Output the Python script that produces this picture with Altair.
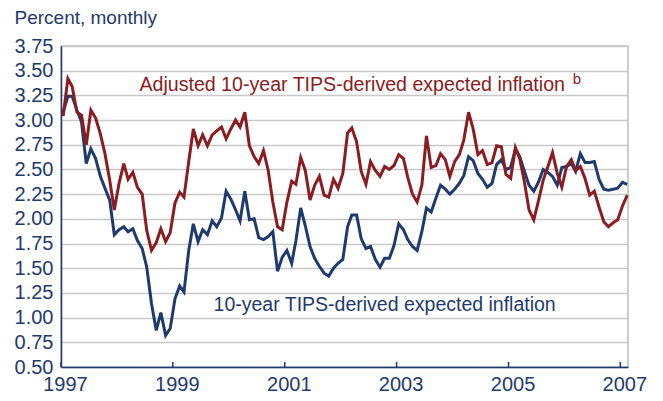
import altair as alt
import pandas as pd

# Monthly observations, Jan 1997 - Feb 2007 (percent)
start_month = "1997-01-01"
n_months = 122

adjusted = [3.04, 3.42, 3.34, 3.08, 3.05, 2.75, 3.10, 3.02, 2.86, 2.66,
            2.39, 2.09, 2.36, 2.56, 2.40, 2.47, 2.32, 2.25, 1.88, 1.68,
            1.76, 1.90, 1.77, 1.86, 2.16, 2.27, 2.22, 2.58, 2.91, 2.74,
            2.85, 2.74, 2.85, 2.89, 2.93, 2.81, 2.91, 3.00, 2.93, 3.08,
            2.74, 2.63, 2.56, 2.69, 2.49, 2.17, 1.92, 1.89, 2.17, 2.38,
            2.35, 2.62, 2.49, 2.19, 2.34, 2.43, 2.24, 2.22, 2.40, 2.31,
            2.46, 2.87, 2.92, 2.78, 2.48, 2.35, 2.58, 2.49, 2.43, 2.53,
            2.50, 2.54, 2.65, 2.61, 2.42, 2.25, 2.17, 2.34, 2.84, 2.52,
            2.54, 2.66, 2.60, 2.43, 2.58, 2.65, 2.80, 3.08, 2.91, 2.65,
            2.69, 2.55, 2.57, 2.74, 2.73, 2.45, 2.41, 2.72, 2.61, 2.37,
            2.09, 1.99, 2.18, 2.39, 2.53, 2.67, 2.46, 2.32, 2.53, 2.60,
            2.49, 2.53, 2.41, 2.24, 2.28, 2.12, 1.97, 1.92, 1.96, 1.99,
            2.13, 2.24]

tips = [3.08, 3.24, 3.24, 3.10, 2.98, 2.56, 2.71, 2.61, 2.43, 2.31,
        2.19, 1.84, 1.89, 1.92, 1.87, 1.90, 1.78, 1.70, 1.51, 1.14,
        0.87, 1.05, 0.82, 0.89, 1.19, 1.32, 1.26, 1.68, 1.95, 1.77,
        1.89, 1.84, 1.98, 1.92, 2.01, 2.28, 2.20, 2.09, 1.98, 2.28,
        1.99, 2.00, 1.81, 1.79, 1.82, 1.87, 1.47, 1.61, 1.68, 1.55,
        1.78, 2.11, 1.93, 1.72, 1.60, 1.52, 1.45, 1.42, 1.50, 1.55,
        1.59, 1.92, 2.04, 2.04, 1.80, 1.70, 1.72, 1.59, 1.51, 1.60,
        1.60, 1.73, 1.95, 1.89, 1.79, 1.72, 1.68, 1.87, 2.11, 2.07,
        2.21, 2.34, 2.30, 2.25, 2.30, 2.36, 2.44, 2.63, 2.59, 2.46,
        2.40, 2.32, 2.36, 2.55, 2.60, 2.50, 2.52, 2.71, 2.63, 2.48,
        2.34, 2.28, 2.37, 2.50, 2.47, 2.43, 2.34, 2.52, 2.53, 2.56,
        2.48, 2.66, 2.57, 2.57, 2.58, 2.40, 2.30, 2.29, 2.30, 2.31,
        2.37, 2.35]

tick_years = [1997, 1999, 2001, 2003, 2005, 2007]
y_ticks = [0.5, 0.75, 1.0, 1.25, 1.5, 1.75, 2.0, 2.25, 2.5, 2.75, 3.0, 3.25, 3.5, 3.75]

label_text = ["Adjusted 10-year TIPS-derived expected inflation", "b",
              "10-year TIPS-derived expected inflation"]
label_date = ["1998-05-28", "2006-02-25", "1999-09-24"]
label_value = [3.29, 3.365, 1.065]
label_series = ["adj", "adj", "tips"]
label_size = [19.6, 15, 19.5]

RED = "#8b1c22"
NAVY = "#1f3a6c"
FONT = "Liberation Sans"
W, H = 567, 321

dates = (pd.date_range(start_month, periods=n_months, freq="MS") + pd.Timedelta(days=14)).strftime("%Y-%m-%d")
df = pd.DataFrame({
    "date": list(dates) * 2,
    "value": tips + adjusted,
    "series": ["tips"] * n_months + ["adj"] * n_months,
})
labels = pd.DataFrame({"date": label_date, "value": label_value, "text": label_text,
                       "series": label_series, "size": label_size})
ticks = pd.DataFrame({"date": [f"{y}-01-01" for y in tick_years]})

xscale = alt.Scale(type="utc", domain=[alt.DateTime(year=1997, month=1, date=1, utc=True),
                                       alt.DateTime(year=2007, month=2, date=20, utc=True)])
yscale = alt.Scale(domain=[0.5, 3.75], nice=False, zero=False)
cscale = alt.Scale(domain=["adj", "tips"], range=[RED, NAVY])

x_axis = alt.Axis(values=[alt.DateTime(year=y, month=1, date=1, utc=True) for y in tick_years],
                  format="%Y", ticks=False, grid=False, labelPadding=7, labelOffset=4,
                  labelFontSize=20, labelColor=NAVY, labelFont=FONT, labelOverlap=False,
                  domainColor=NAVY, domainWidth=1.5, labelFlush=False)
y_axis = alt.Axis(values=y_ticks, format=".2f", ticks=False, grid=True,
                  gridColor="#c9c9c9", gridWidth=1.6, labelPadding=8,
                  labelFontSize=20, labelColor=NAVY, labelFont=FONT, labelOverlap=False,
                  domainColor=NAVY, domainWidth=1.5,
                  titleAngle=0, titleAlign="left", titleBaseline="alphabetic",
                  titleX=-47, titleY=-23, titleFontSize=19, titleFontWeight="normal",
                  titleColor=NAVY, titleFont=FONT)

x_enc = alt.X("date:T", scale=xscale, title=None, axis=x_axis)
y_enc = alt.Y("value:Q", scale=yscale, title="Percent, monthly", axis=y_axis)
c_enc = alt.Color("series:N", scale=cscale, legend=None)

base = alt.Chart(df)
blue_line = base.transform_filter(alt.datum.series == "tips").mark_line(strokeWidth=3).encode(
    x=x_enc, y=y_enc, color=c_enc)
red_line = base.transform_filter(alt.datum.series == "adj").mark_line(strokeWidth=3).encode(
    x=x_enc, y=y_enc, color=c_enc)

text = alt.Chart(labels).mark_text(align="left", baseline="alphabetic", font=FONT).encode(
    x=x_enc, y=y_enc, text="text:N",
    size=alt.Size("size:Q", scale=None, legend=None),
    color=c_enc)

tick_marks = alt.Chart(ticks).mark_rule(color=NAVY, strokeWidth=1.5).encode(
    x=x_enc, y=alt.value(H - 5), y2=alt.value(H))

chart = alt.layer(blue_line, red_line, text, tick_marks).properties(
    width=W, height=H, autosize="none",
    padding={"left": 53, "top": 38, "right": 20, "bottom": 30},
).configure_view(stroke="#bdbdbd", strokeWidth=1.5)

chart.save("out.html", embed_options={"renderer": "svg", "actions": False})
